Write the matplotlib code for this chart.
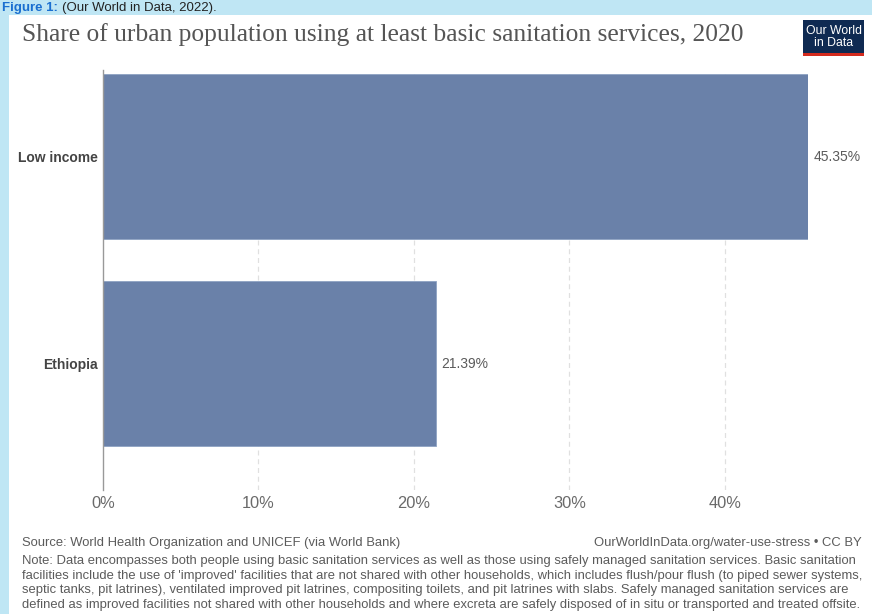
import matplotlib
matplotlib.use("Agg")
import matplotlib.pyplot as plt
from matplotlib.patches import Rectangle

# data
countries = ["Low income", "Ethiopia"]
share = [45.35, 21.39]
x_ticks = [0, 10, 20, 30, 40]

title = "Share of urban population using at least basic sanitation services, 2020"
source = "Source: World Health Organization and UNICEF (via World Bank)"
url = "OurWorldInData.org/water-use-stress \u2022 CC BY"
note = ("Note: Data encompasses both people using basic sanitation services as well as those using safely managed sanitation services. Basic sanitation\n"
        "facilities include the use of 'improved' facilities that are not shared with other households, which includes flush/pour flush (to piped sewer systems,\n"
        "septic tanks, pit latrines), ventilated improved pit latrines, compositing toilets, and pit latrines with slabs. Safely managed sanitation services are\n"
        "defined as improved facilities not shared with other households and where excreta are safely disposed of in situ or transported and treated offsite.")

W, H = 872, 614
fig = plt.figure(figsize=(W / 100, H / 100), dpi=100, facecolor="#bfe6f4")

def fx(px):
    return px / W

def fy(py):
    return 1 - py / H

# white card
fig.patches.append(Rectangle((fx(9), 0), 1 - fx(9), fy(15), transform=fig.transFigure,
                             facecolor="white", edgecolor="none", zorder=-5))

# caption strip at the top (cut off in the original, shrunk here to fit)
cap1 = fig.text(fx(2), fy(11), "Figure 1:", color="#1a6fd0", fontsize=9.5, fontweight="bold",
                family="Liberation Sans", va="baseline", ha="left")
r = fig.canvas.get_renderer()
bb = cap1.get_window_extent(r)
fig.text(bb.x1 / W + fx(4), fy(11), "(Our World in Data, 2022).", color="#222222", fontsize=9.5,
         family="Liberation Sans", va="baseline", ha="left")

ax = fig.add_axes([fx(103), fy(490), fx(808) - fx(103), fy(70) - fy(490)])
ypos = list(range(len(countries)))
ax.barh(ypos, share, height=0.8, color="#6a81a9", edgecolor="#8ea3c3", linewidth=0.6, zorder=2)
ax.set_xlim(0, 45.35)
ax.set_ylim(1.611, -0.418)

for x in x_ticks[1:]:
    ax.axvline(x, color="#e0e0e0", linestyle=(0, (4, 3)), linewidth=0.9, zorder=1)

for y, v in zip(ypos, share):
    ax.text(v + 0.35, y, f"{v:.2f}%", va="center", ha="left", fontsize=10,
            color="#5b5b5b", family="Liberation Sans")

ax.set_yticks(ypos)
ax.set_yticklabels(countries, fontsize=10, fontweight="bold", color="#444444",
                   family="Liberation Sans")
ax.set_xticks(x_ticks)
ax.set_xticklabels([f"{t}%" for t in x_ticks], fontsize=11.8, color="#6a6a6a",
                   family="Liberation Sans")
ax.tick_params(axis="y", length=0, pad=4)
ax.tick_params(axis="x", length=0, pad=4)
for s in ["top", "right", "bottom"]:
    ax.spines[s].set_visible(False)
ax.spines["left"].set_color("#999999")
ax.spines["left"].set_linewidth(1)
ax.set_facecolor("none")

fig.text(fx(22), fy(35), title, fontsize=18.4, color="#555555", family="Liberation Serif",
         va="center", ha="left")

# logo
fig.patches.append(Rectangle((fx(803), fy(56)), fx(61), fy(20) - fy(56), transform=fig.transFigure,
                             facecolor="#0f2a52", edgecolor="none"))
fig.patches.append(Rectangle((fx(803), fy(56)), fx(61), fy(53) - fy(56), transform=fig.transFigure,
                             facecolor="#d42b1e", edgecolor="none"))
fig.text(fx(833.5), fy(37), "Our World\nin Data", color="white", fontsize=8.8, ha="center",
         va="center", family="Liberation Sans", linespacing=0.95)

fig.text(fx(22), fy(543), source, fontsize=9.4, color="#5b5b5b", family="Liberation Sans",
         va="center", ha="left")
fig.text(fx(862), fy(543), url, fontsize=9.4, color="#5b5b5b", family="Liberation Sans",
         va="center", ha="right")
fig.text(fx(22), fy(555), note, fontsize=9.4, color="#5b5b5b", family="Liberation Sans",
         va="top", ha="left", linespacing=1.3)

fig.savefig("out.png", dpi=100, facecolor=fig.get_facecolor())
